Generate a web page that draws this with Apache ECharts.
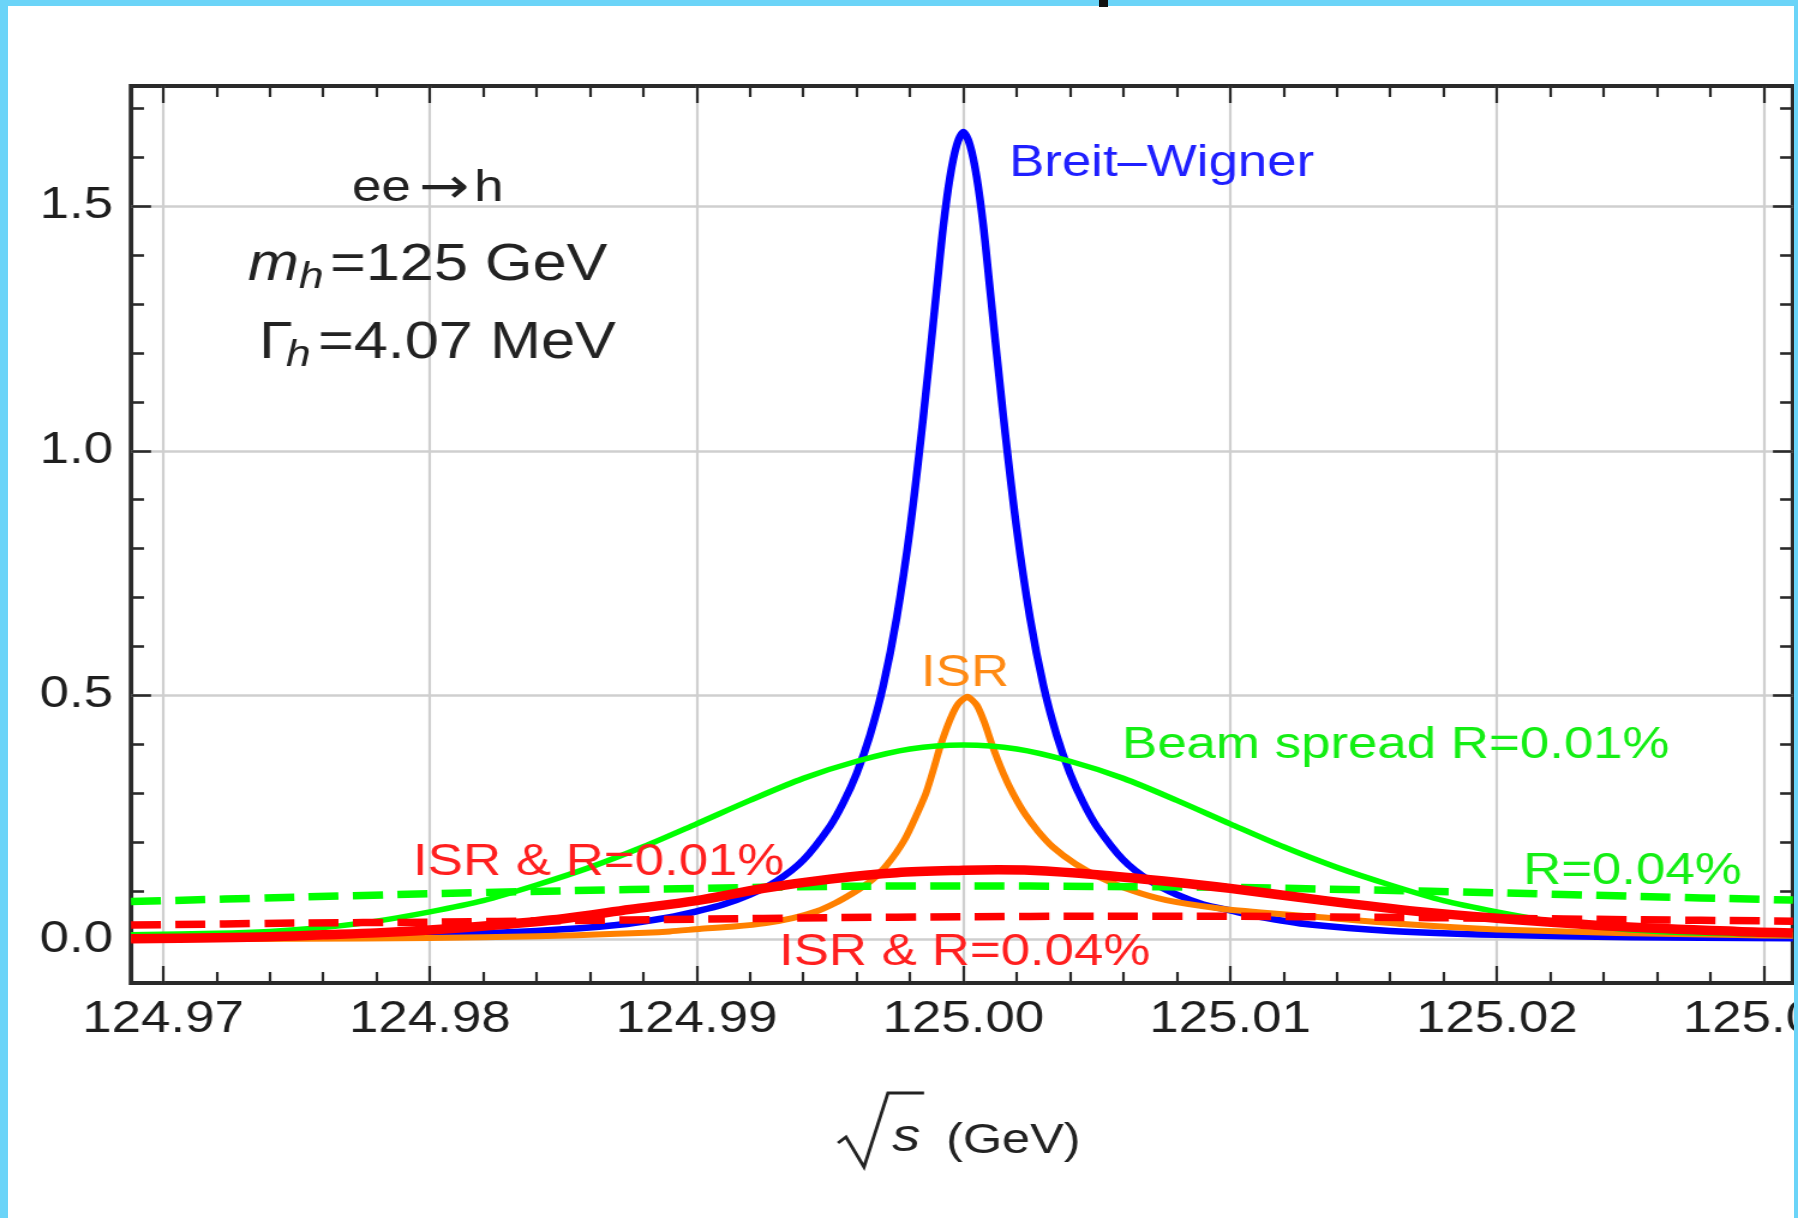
<!DOCTYPE html>
<html>
<head>
<meta charset="utf-8">
<script src="https://cdn.jsdelivr.net/npm/echarts@6.0.0/dist/echarts.min.js"></script>
<style>
html,body{margin:0;padding:0;background:#fff;overflow:hidden;width:1798px;height:1218px;}
#chart{position:absolute;left:0;top:0;width:1498px;height:1218px;transform:scaleX(1.200267);transform-origin:0 0;}
.edge{position:absolute;background:#6bd4f8;}
</style>
</head>
<body>
<div id="chart"></div>
<div class="edge" style="left:0;top:0;width:1798px;height:6px"></div>
<div class="edge" style="left:0;top:0;width:8px;height:1218px"></div>
<div class="edge" style="left:1794px;top:0;width:4px;height:1218px"></div>
<div style="position:absolute;left:1099px;top:0;width:9px;height:7px;background:#111"></div>
<script>
// ---- data ----
const xMajor = [124.97, 124.98, 124.99, 125.00, 125.01, 125.02, 125.03];
const yMajor = [0.0, 0.5, 1.0, 1.5];
const yMinor = [0.1, 0.2, 0.3, 0.4, 0.6, 0.7, 0.8, 0.9, 1.1, 1.2, 1.3, 1.4, 1.6, 1.7];

// Breit-Wigner
const bwX = [124.9688,124.975,124.98,124.984,124.987,124.989,124.99,124.991,124.992,124.993,124.994,124.995,124.9955,124.996,124.9965,124.997,124.9975,124.998,124.9985,124.999,124.99925,124.9995,124.99975,125.0,125.00025,125.0005,125.00075,125.001,125.0015,125.002,125.0025,125.003,125.0035,125.004,125.0045,125.005,125.006,125.007,125.008,125.009,125.01,125.011,125.013,125.016,125.02,125.025,125.0311];
const bwY = [0.003,0.005,0.010,0.018,0.030,0.046,0.058,0.072,0.092,0.12,0.163,0.232,0.28,0.34,0.418,0.52,0.658,0.84,1.07,1.33,1.46,1.56,1.625,1.652,1.625,1.56,1.46,1.33,1.07,0.84,0.658,0.52,0.418,0.34,0.28,0.232,0.163,0.12,0.092,0.072,0.06,0.048,0.031,0.018,0.010,0.005,0.003];

// ISR
const isrX = [124.9688,124.975,124.98,124.984,124.987,124.989,124.9901,124.9914,124.9926,124.9936,124.9945,124.9952,124.99585,124.9963,124.99672,124.9971,124.99747,124.9978,124.9981,124.9986,124.9989,124.99913,124.9995,124.9998,125.00015,125.0005,125.0008,125.0011,125.0015,125.00185,125.0023,125.0028,125.00335,125.0042,125.0051,125.00635,125.0076,125.0096,125.0115,125.0134,125.0165,125.02,125.0245,125.029,125.0311];
const isrY = [0.001,0.002,0.0035,0.007,0.012,0.017,0.022,0.027,0.034,0.044,0.058,0.075,0.095,0.111,0.129,0.151,0.177,0.205,0.238,0.30,0.352,0.395,0.45,0.482,0.497,0.48,0.443,0.395,0.34,0.30,0.258,0.222,0.19,0.155,0.128,0.10,0.081,0.064,0.054,0.046,0.032,0.021,0.014,0.0096,0.008];

// Beam spread R=0.01%
const bsX = [124.9688,124.972,124.974,124.976,124.978,124.98,124.982,124.984,124.986,124.988,124.99,124.992,124.994,124.996,124.998,125.0,125.002,125.004,125.006,125.008,125.01,125.012,125.014,125.016,125.018,125.02,125.022,125.024,125.026,125.028,125.0311];
const bsY = [0.010,0.013,0.017,0.025,0.038,0.057,0.08,0.112,0.148,0.19,0.237,0.285,0.33,0.365,0.39,0.398,0.39,0.365,0.33,0.285,0.237,0.19,0.148,0.112,0.08,0.057,0.038,0.025,0.017,0.013,0.010];

// Beam spread R=0.04% (dashed)
const bs4X = [124.9688,124.975,124.98,124.985,124.99,124.995,125.0,125.005,125.01,125.015,125.02,125.025,125.0311];
const bs4Y = [0.078,0.087,0.094,0.1,0.105,0.109,0.11,0.109,0.107,0.102,0.096,0.089,0.081];

// ISR & R=0.01%
const isr1X = [124.9688,124.972,124.974,124.976,124.978,124.98,124.9825,124.985,124.9875,124.99,124.9925,124.995,124.9975,125.0,125.0013,125.0025,125.005,125.0075,125.01,125.0134,125.017,125.02,125.0246,125.029,125.0311];
const isr1Y = [0.002,0.004,0.006,0.01,0.014,0.02,0.03,0.043,0.062,0.08,0.105,0.124,0.137,0.142,0.143,0.142,0.133,0.12,0.105,0.081,0.058,0.044,0.027,0.017,0.014];

// ISR & R=0.04% (dashed)
const isr4X = [124.9688,124.975,124.98,124.985,124.99,124.995,125.0,125.005,125.01,125.015,125.02,125.025,125.0311];
const isr4Y = [0.030,0.034,0.036,0.039,0.042,0.045,0.047,0.048,0.048,0.046,0.044,0.041,0.038];

// ---- layout / style ----
const S = 1798 / 1498;
const X = v => v / S;
const FF = "'Liberation Sans', Arial, Helvetica, sans-serif";
const xMin = 124.9688, xMax = 125.0311, yMin = -0.0885, yMax = 1.746;

const xMinor = [];
xMajor.forEach(m => { for (let k = 1; k < 5; k++) xMinor.push(+(m + k * 0.002).toFixed(3)); });

const pairs = (xs, ys) => xs.map((x, i) => [x, ys[i]]);
const tickColor = '#2a2a2a';

function xAxis(pos, ticks, len, withLabels) {
  return {
    type: 'value', min: xMin, max: xMax, position: pos,
    axisLine: { show: false, onZero: false },
    axisTick: { show: true, inside: true, length: len, customValues: ticks,
                lineStyle: { color: tickColor, width: 2.2 } },
    axisLabel: withLabels ? { show: true, customValues: ticks, inside: false,
                formatter: v => v.toFixed(2), fontSize: 44, fontFamily: FF,
                color: '#1e1e1e', margin: 15 } : { show: false },
    splitLine: withLabels ? { show: true, lineStyle: { color: '#cfcfcf', width: 2.2 } } : { show: false },
    minorTick: { show: false }, minorSplitLine: { show: false }
  };
}
function yAxis(pos, ticks, len, withLabels) {
  return {
    type: 'value', min: yMin, max: yMax, position: pos,
    axisLine: { show: false, onZero: false },
    axisTick: { show: true, inside: true, length: len, customValues: ticks,
                lineStyle: { color: tickColor, width: 2.6 } },
    axisLabel: withLabels ? { show: true, customValues: ticks, inside: false,
                formatter: v => v.toFixed(1), fontSize: 44, fontFamily: FF,
                color: '#1e1e1e', margin: 15 } : { show: false },
    splitLine: withLabels ? { show: true, lineStyle: { color: '#cfcfcf', width: 2.6 } } : { show: false },
    minorTick: { show: false }, minorSplitLine: { show: false }
  };
}

function lineSeries(name, xs, ys, color, width, dashed, z, smooth) {
  return {
    type: 'line', name: name, data: pairs(xs, ys),
    xAxisIndex: 0, yAxisIndex: 0,
    showSymbol: false, symbol: 'none', smooth: smooth, silent: true, z: z,
    lineStyle: { color: color, width: width, type: dashed ? [25, 12] : 'solid', cap: 'butt', join: 'round' }
  };
}

function label(text, x, y, size, color, italic, family) {
  return { type: 'text', x: X(x), y: y, z: 50, silent: true,
    style: { text: text, fontSize: size, fontFamily: family || FF, fontStyle: italic ? 'italic' : 'normal',
             fill: color, align: 'left', verticalAlign: 'middle' } };
}

const chart = echarts.init(document.getElementById('chart'), null, { renderer: 'canvas' });
chart.setOption({
  animation: false,
  backgroundColor: '#ffffff',
  grid: { left: X(131), right: 1498 - X(1793), top: 86, bottom: 1218 - 983,
          containLabel: false, outerBoundsMode: 'none',
          show: true, borderColor: '#2a2a2a', borderWidth: 3.8, backgroundColor: 'transparent' },
  xAxis: [
    xAxis('bottom', xMajor, 17, true),
    xAxis('bottom', xMinor, 11, false),
    xAxis('top', xMajor, 17, false),
    xAxis('top', xMinor, 11, false)
  ],
  yAxis: [
    yAxis('left', yMajor, 16.7, true),
    yAxis('left', yMinor, 10.8, false),
    yAxis('right', yMajor, 16.7, false),
    yAxis('right', yMinor, 10.8, false)
  ],
  series: [
    lineSeries('Breit–Wigner', bwX, bwY, '#0000ff', 6.5, false, 2, 0.3),
    lineSeries('ISR', isrX, isrY, '#ff8000', 6, false, 3, 0.2),
    lineSeries('Beam spread R=0.01%', bsX, bsY, '#00ff00', 5.5, false, 4, 0.3),
    lineSeries('R=0.04%', bs4X, bs4Y, '#00ff00', 7.5, true, 5, 0.3),
    lineSeries('ISR & R=0.04%', isr4X, isr4Y, '#ff0000', 7.5, true, 6, 0.3),
    lineSeries('ISR & R=0.01%', isr1X, isr1Y, '#ff0000', 9.5, false, 7, 0.3)
  ],
  graphic: [
    label('ee', 352, 189, 44, '#222', false),
    label('→', 419, 190, 50, '#222', false, "'DejaVu Sans', sans-serif"),
    label('h', 474, 189, 44, '#222', false),
    label('m', 248, 266, 51, '#222', true),
    label('h', 299, 278, 37, '#222', true),
    label('=125 GeV', 330, 266, 51, '#222', false),
    label('Γ', 259, 344, 51, '#222', false),
    label('h', 286, 356, 37, '#222', true),
    label('=4.07 MeV', 318, 344, 51, '#222', false),
    label('Breit–Wigner', 1009, 164, 44, '#1f1fff', false),
    label('ISR', 921, 674, 44, '#ff8a14', false),
    label('Beam spread R=0.01%', 1122, 746, 44, '#14ee14', false),
    label('R=0.04%', 1523, 872, 44, '#14ee14', false),
    label('ISR & R=0.01%', 413, 863, 44, '#ff1f1f', false),
    label('ISR & R=0.04%', 779, 953, 44, '#ff1f1f', false),
    { type: 'polyline', z: 50, silent: true,
      shape: { points: [[X(838), 1143], [X(846), 1137], [X(864), 1167], [X(888), 1093], [X(924), 1093]] },
      style: { stroke: '#222', lineWidth: 2.8, fill: null } },
    label('s', 892, 1138, 47, '#222', true),
    label('(GeV)', 946, 1141, 42, '#222', false)
  ]
});
</script>
</body>
</html>
